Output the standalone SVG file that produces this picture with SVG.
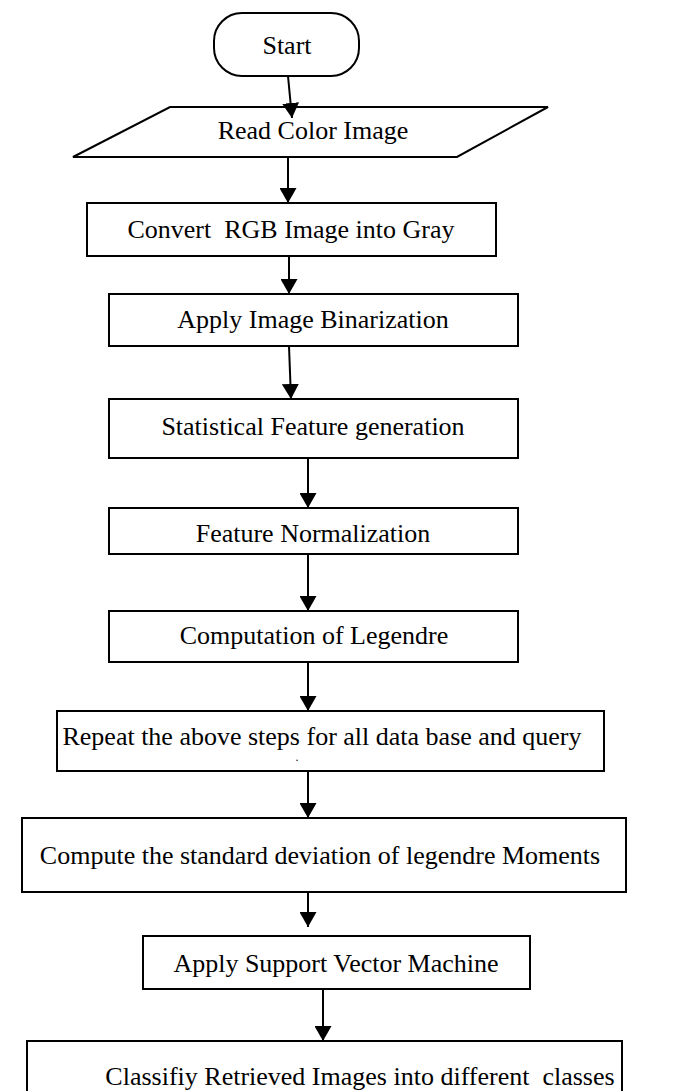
<svg xmlns="http://www.w3.org/2000/svg" width="688" height="1091" viewBox="0 0 688 1091">
<defs>
<style>
.box{fill:#fff;stroke:#000;stroke-width:2}
.lbl{font-family:"Liberation Serif","Times New Roman",serif;font-size:26px;fill:#000;text-anchor:middle;white-space:pre}
.con{stroke:#000;stroke-width:2;fill:none;marker-end:url(#ah)}
</style>
<marker id="ah" viewBox="0 0 15 17" refX="15" refY="8.5" markerWidth="15" markerHeight="17" markerUnits="userSpaceOnUse" orient="auto">
<path d="M0,0 L15,8.5 L0,17 z" fill="#000"/>
</marker>
</defs>
<rect width="688" height="1091" fill="#fff"/>
<g id="n-start"><rect class="box" x="214" y="13" width="145" height="63" rx="28"/><text class="lbl" x="287" y="54">Start</text></g>
<g id="n-read"><polygon class="box" points="170,107 548,107 457,157 73,157"/><text class="lbl" x="313" y="139">Read Color Image</text></g>
<g id="n-convert"><rect class="box" x="87" y="203" width="409" height="53"/><text class="lbl" x="291" y="238">Convert  RGB Image into Gray</text></g>
<g id="n-bin"><rect class="box" x="109" y="294" width="409" height="52"/><text class="lbl" x="313" y="328">Apply Image Binarization</text></g>
<g id="n-stat"><rect class="box" x="109" y="399" width="409" height="59"/><text class="lbl" x="313" y="435">Statistical Feature generation</text></g>
<g id="n-norm"><rect class="box" x="109" y="508" width="409" height="46"/><text class="lbl" x="313" y="542">Feature Normalization</text></g>
<g id="n-leg"><rect class="box" x="109" y="611" width="409" height="51"/><text class="lbl" x="314" y="644">Computation of Legendre</text></g>
<g id="n-repeat"><rect class="box" x="57" y="711" width="547" height="60"/><text class="lbl" x="322" y="745">Repeat the above steps for all data base and query</text><text class="lbl" x="297" y="761" style="font-size:12px">.</text></g>
<g id="n-std"><rect class="box" x="22" y="818" width="604" height="74"/><text class="lbl" x="320" y="864">Compute the standard deviation of legendre Moments</text></g>
<g id="n-svm"><rect class="box" x="143" y="936" width="387" height="53"/><text class="lbl" x="336" y="972">Apply Support Vector Machine</text></g>
<g id="n-class"><rect class="box" x="27" y="1041" width="595" height="70"/><text class="lbl" x="360" y="1085">Classifiy Retrieved Images into different  classes</text></g>
<g id="connectors">
<path class="con" d="M288,76 L292,118"/>
<path class="con" d="M288,157 L288,203"/>
<path class="con" d="M289,256 L289,294"/>
<path class="con" d="M289,346 L291,399"/>
<path class="con" d="M308,458 L308,508"/>
<path class="con" d="M308,554 L308,611"/>
<path class="con" d="M308,662 L308,711"/>
<path class="con" d="M308,771 L308,818"/>
<path class="con" d="M308,892 L308,927"/>
<path class="con" d="M323,989 L323,1041"/>
</g>
</svg>
